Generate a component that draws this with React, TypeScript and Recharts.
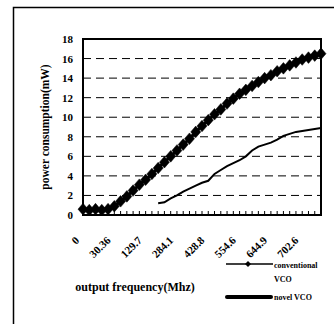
import React from "react";
import { LineChart, Line, XAxis, YAxis, CartesianGrid, ReferenceArea } from "recharts";

const tickLabels = ["0", "30.36", "129.7", "284.1", "428.8", "554.6", "644.9", "702.6"];
const labelStep = 5;

const conventionalVCO = [0.6, 0.5, 0.6, 0.5, 0.6, 0.9, 1.4, 1.9, 2.5, 3.1, 3.6, 4.2, 4.8, 5.4, 6.0, 6.6, 7.2, 7.8, 8.5, 9.1, 9.7, 10.3, 10.8, 11.4, 11.9, 12.4, 12.8, 13.2, 13.6, 14.0, 14.3, 14.7, 15.0, 15.3, 15.6, 15.9, 16.1, 16.3, 16.5];
const novelStart = 12;
const novelVCO = [1.2, 1.3, 1.7, 2.0, 2.4, 2.7, 3.0, 3.3, 3.5, 4.2, 4.6, 5.0, 5.3, 5.6, 6.0, 6.6, 7.0, 7.2, 7.4, 7.7, 8.1, 8.3, 8.5, 8.6, 8.7, 8.8, 8.9];
const yTicks = [0, 2, 4, 6, 8, 10, 12, 14, 16, 18];
const seriesNames = ["conventional", "VCO", "novel VCO"];

const data = conventionalVCO.map((v, i) => ({
  idx: i,
  conventional: v,
  novel: i >= novelStart ? novelVCO[i - novelStart] : null,
}));

const FONT = "'Liberation Serif', 'Times New Roman', serif";

const Diamond = (props: any) => {
  const { cx, cy } = props;
  if (cx == null || cy == null) return null;
  const w = 5, h = 5.8;
  return <polygon points={`${cx},${cy - h} ${cx + w},${cy} ${cx},${cy + h} ${cx - w},${cy}`} fill="#000" stroke="#000" strokeWidth={0.5} />;
};

const XTick = (props: any) => {
  const { x, y, payload } = props;
  const i = payload.value as number;
  const lbl = i % labelStep === 0 ? tickLabels[i / labelStep] : undefined;
  const ax = x - 3, ay = y + 26;
  return (
    <g>
      {i > 0 && i < conventionalVCO.length - 1 && <line x1={x} y1={y} x2={x} y2={y - 4} stroke="#000" strokeWidth={1} />}
      {lbl !== undefined && (
        <text x={ax} y={ay} textAnchor="end" transform={`rotate(-45 ${ax} ${ay})`}
          fontFamily={FONT} fontWeight="bold" fontSize={11} fill="#000">{lbl}</text>
      )}
    </g>
  );
};

const YTick = (props: any) => {
  const { y, payload } = props;
  return (
    <text x={73} y={y} textAnchor="end" dominantBaseline="central" fontFamily={FONT} fontWeight="bold" fontSize={11} fill="#000">{payload.value}</text>
  );
};

export default function App() {
  return (
    <div style={{ position: "absolute", left: 0, top: 0, width: 334, height: 324, background: "#fff" }}>
      <div style={{ position: "absolute", left: 0, top: 0 }}>
        <LineChart width={334} height={324} data={data} margin={{ top: 39, right: 13, left: 0, bottom: 0 }}>
          <CartesianGrid vertical={false} stroke="#000" strokeDasharray="8 5" strokeWidth={1} />
          <XAxis dataKey="idx" type="number" domain={[0, conventionalVCO.length - 1]} ticks={data.map(d => d.idx)}
            interval={0} height={109} tickSize={0} tickMargin={0} tickLine={false} axisLine={false} tick={<XTick />} allowDecimals={false} />
          <YAxis domain={[0, 18]} ticks={yTicks} width={83} tickSize={0} tickMargin={0} tickLine={false} axisLine={false}
            tick={<YTick />} interval={0} />
          <ReferenceArea x1={0} x2={conventionalVCO.length - 1} y1={0} y2={18} fill="none" fillOpacity={0} stroke="#000" strokeWidth={2} />
          <Line dataKey="conventional" name="conventional VCO" stroke="#000" strokeWidth={3} dot={<Diamond />} isAnimationActive={false} />
          <Line dataKey="novel" name="novel VCO" stroke="#000" strokeWidth={2} dot={false} isAnimationActive={false} connectNulls={false} />
        </LineChart>
      </div>
      <svg width={334} height={324} style={{ position: "absolute", left: 0, top: 0, pointerEvents: "none" }}>
        <path d="M13.5,324 L13.5,7.5 L334,7.5" fill="none" stroke="#000" strokeWidth={1.5} />
        <text x={45} y={127} textAnchor="middle" transform="rotate(-90 45 127)" fontFamily={FONT} fontWeight="bold" fontSize={11.5} fill="#000" dominantBaseline="central">power consumption(mW)</text>
        <text x={135} y={291} textAnchor="middle" fontFamily={FONT} fontWeight="bold" fontSize={12} fill="#000">output frequency(Mhz)</text>
        <line x1={226} y1={264} x2={273} y2={264} stroke="#000" strokeWidth={1.5} />
        <polygon points="248,261 251,264 248,267 245,264" fill="#000" />
        <line x1={227} y1={297} x2={271} y2={297} stroke="#000" strokeWidth={4} strokeLinecap="round" />
        <text x={274} y={268} fontFamily={FONT} fontWeight="bold" fontSize={8} fill="#000">{seriesNames[0]}</text>
        <text x={274} y={282} fontFamily={FONT} fontWeight="bold" fontSize={8} fill="#000">{seriesNames[1]}</text>
        <text x={274} y={300} fontFamily={FONT} fontWeight="bold" fontSize={8} fill="#000">{seriesNames[2]}</text>
      </svg>
    </div>
  );
}
